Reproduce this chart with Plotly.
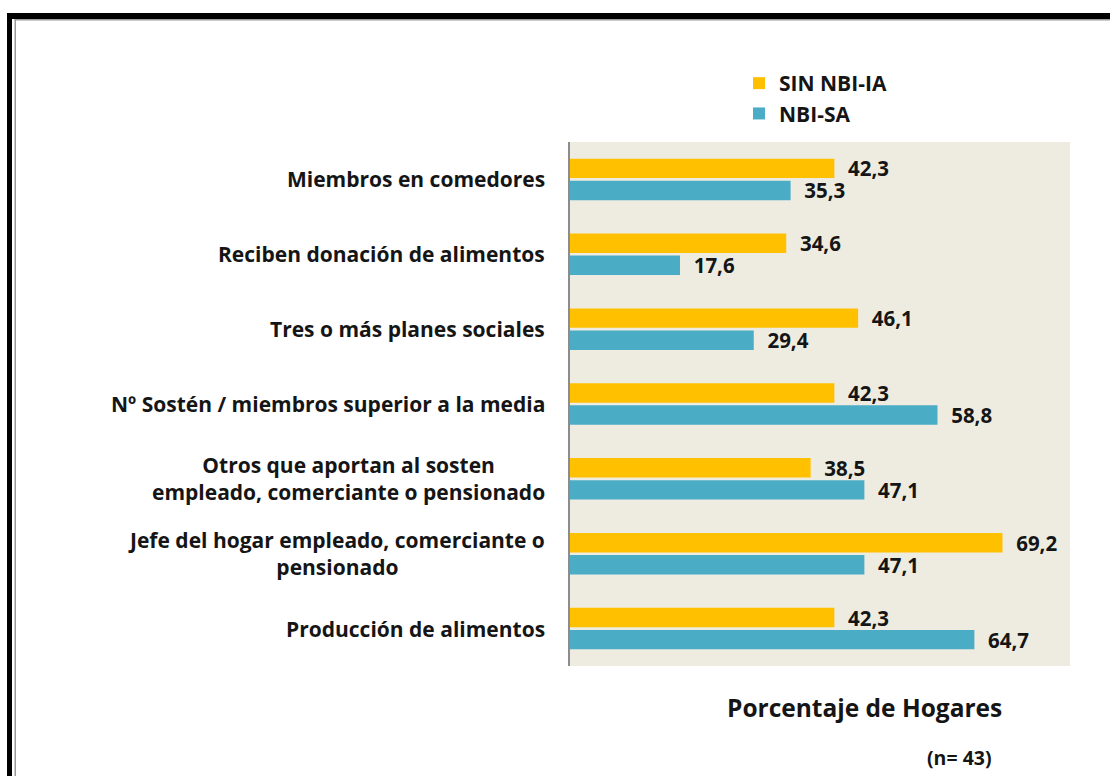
import plotly.graph_objects as go

categories = [
    "Miembros en comedores",
    "Reciben donación de alimentos",
    "Tres o más planes sociales",
    "Nº Sostén / miembros superior a la media",
    "Otros que aportan al sosten<br>empleado, comerciante o pensionado",
    "Jefe del hogar empleado, comerciante o<br>pensionado",
    "Producción de alimentos",
]
sin_nbi_ia = [42.3, 34.6, 46.1, 42.3, 38.5, 69.2, 42.3]
nbi_sa = [35.3, 17.6, 29.4, 58.8, 47.1, 47.1, 64.7]
series_names = ["SIN NBI-IA", "NBI-SA"]
colors = ["#FFC000", "#4BACC6"]

W, H = 1110, 776
L, R, T, B = 570, 40, 142, 110
FONT = "Open Sans"
TXT = "#151515"


def fmt(v):
    return "\u00a0\u00a0" + f"{v:.1f}".replace(".", ",")


fig = go.Figure()
for name, vals, col in zip(series_names, [sin_nbi_ia, nbi_sa], colors):
    fig.add_trace(go.Bar(
        y=categories, x=vals, name=f"<b>{name}</b>", orientation="h",
        marker=dict(color=col, line=dict(width=0)),
        text=[fmt(v) for v in vals], textposition="outside",
        constraintext="none",
        textfont=dict(family=FONT, size=20.5, color=TXT, weight="bold"),
        cliponaxis=False,
    ))

annotations = []
for c in categories:
    annotations.append(dict(
        xref="paper", yref="y", x=0, y=c, xshift=-23, xanchor="right", yanchor="middle",
        text=f"<b>{c}</b>", showarrow=False, align="center",
        font=dict(family=FONT, size=21, color=TXT),
    ))

pw, ph = W - L - R, H - T - B


def px(x):
    return (x - L) / pw


def py(y):
    return (H - B - y) / ph


annotations.append(dict(xref="paper", yref="paper", x=px(864), y=py(707),
                        xanchor="center", yanchor="middle",
                        text="<b>Porcentaje de Hogares</b>", showarrow=False,
                        font=dict(family=FONT, size=24.5, color=TXT)))
annotations.append(dict(xref="paper", yref="paper", x=px(959), y=py(757),
                        xanchor="center", yanchor="middle",
                        text="<b>(n= 43)</b>", showarrow=False,
                        font=dict(family=FONT, size=19.5, color=TXT)))

shapes = [
    dict(type="rect", xref="paper", yref="paper", x0=px(7), x1=px(W + 5), y0=py(19), y1=py(13),
         fillcolor="black", line=dict(width=0), layer="above"),
    dict(type="rect", xref="paper", yref="paper", x0=px(7), x1=px(12), y0=py(H + 5), y1=py(13),
         fillcolor="black", line=dict(width=0), layer="above"),
    dict(type="rect", xref="paper", yref="paper", x0=px(14.5), x1=px(16), y0=py(H + 5), y1=py(19),
         fillcolor="#9a9a9a", line=dict(width=0), layer="above"),
    dict(type="rect", xref="paper", yref="paper", x0=px(14.5), x1=px(W + 5), y0=py(20.5), y1=py(19),
         fillcolor="#9a9a9a", line=dict(width=0), layer="above"),
]

fig.update_layout(
    width=W, height=H,
    margin=dict(l=L, r=R, t=T, b=B),
    paper_bgcolor="white", plot_bgcolor="#EEECE1",
    barmode="group", bargap=0.41, bargroupgap=0.12,
    showlegend=True,
    legend=dict(x=px(739), y=py(63), xanchor="left", yanchor="top",
                traceorder="normal", bgcolor="rgba(0,0,0,0)",
                font=dict(family=FONT, size=21, color=TXT),
                itemsizing="constant", tracegroupgap=0),
    xaxis=dict(range=[0, 80], showgrid=False, zeroline=False, showticklabels=False,
               ticks="", showline=False, fixedrange=True),
    yaxis=dict(autorange="reversed", showgrid=False, showticklabels=False, ticks="",
               showline=True, linecolor="#8c8c8c", linewidth=1.5, fixedrange=True),
    annotations=annotations,
    shapes=shapes,
)

fig.write_html("out.html", config={"displayModeBar": False},
               post_script="document.body.style.margin='0';document.body.style.overflow='hidden';")
